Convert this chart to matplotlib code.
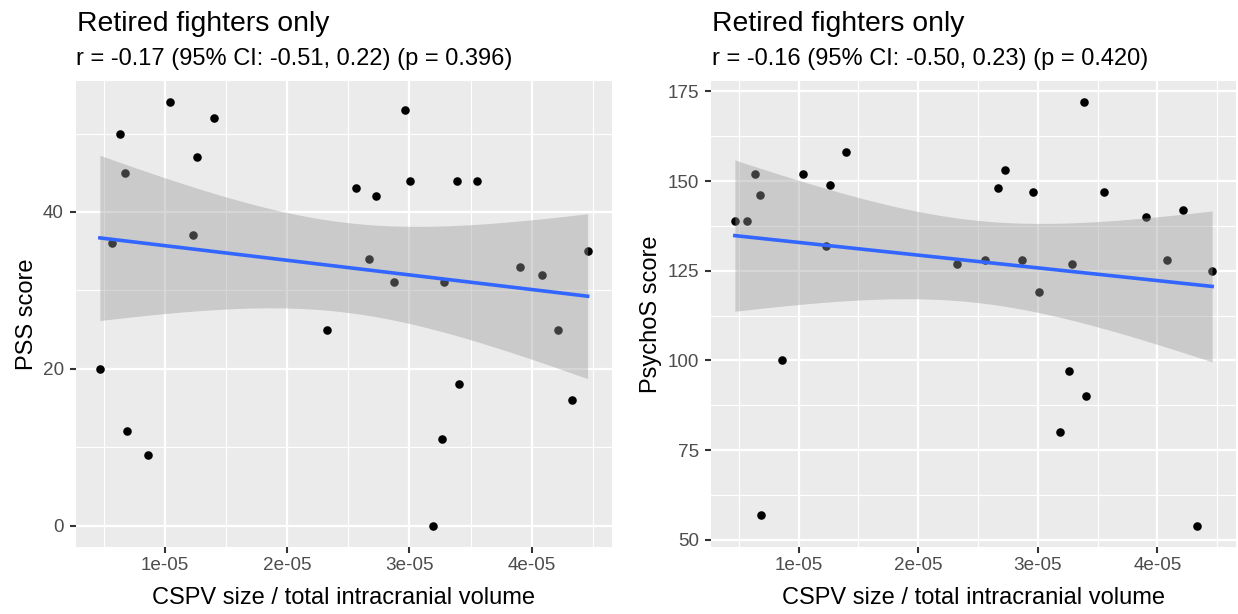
import numpy as np
import matplotlib
matplotlib.use("Agg")
import matplotlib.pyplot as plt
from matplotlib.ticker import FixedLocator, FixedFormatter

# ---- data ----
cspv_ratio = np.array([0.468, 0.570, 0.636, 0.676, 0.690, 0.865, 1.040, 1.232, 1.261, 1.400,
                       2.322, 2.561, 2.670, 2.725, 2.872, 2.960, 3.008, 3.189, 3.262, 3.282,
                       3.390, 3.404, 3.552, 3.907, 4.080, 4.215, 4.330, 4.457]) * 1e-5
pss_score = [20, 36, 50, 45, 12, 9, 54, 37, 47, 52, 25, 43, 34, 42, 31, 53, 44, 0, 11, 31,
             44, 18, 44, 33, 32, 25, 16, 35]
psychos_score = [139, 139, 152, 146, 57, 100, 152, 132, 149, 158, 127, 128, 148, 153, 128, 147,
                 119, 80, 97, 127, 172, 90, 147, 140, 128, 142, 54, 125]

title_text = "Retired fighters only"
subtitles = ["r = -0.17 (95% CI: -0.51, 0.22) (p = 0.396)",
             "r = -0.16 (95% CI: -0.50, 0.23) (p = 0.420)"]
ylabels = ["PSS score", "PsychoS score"]
xlabel = "CSPV size / total intracranial volume"
x_ticks = [1e-5, 2e-5, 3e-5, 4e-5]
x_ticklabels = ["1e-05", "2e-05", "3e-05", "4e-05"]
x_minor = [0.5e-5, 1.5e-5, 2.5e-5, 3.5e-5, 4.5e-5]
y_ticks = [[0, 20, 40], [50, 75, 100, 125, 150, 175]]
y_minor = [[10, 30, 50], [62.5, 87.5, 112.5, 137.5, 162.5]]
T_975_DF26 = 2.0555  # t quantile for 95% CI, n-2 = 26

W, H = 1238, 614
plt.rcParams['font.family'] = ['Liberation Sans', 'DejaVu Sans']
fig = plt.figure(figsize=(W / 100, H / 100), dpi=100)
fig.patch.set_facecolor("white")

def px_axes(l, t, r, b):
    return fig.add_axes([l / W, 1 - b / H, (r - l) / W, (b - t) / H])

panels = [dict(box=(75.5, 81, 612, 546.7), y=pss_score, ylab_x=33.0),
          dict(box=(711, 81, 1236, 546.7), y=psychos_score, ylab_x=656.7)]

for i, p in enumerate(panels):
    l, t, r, b = p["box"]
    ax = px_axes(l, t, r, b)
    ax.set_facecolor("#EBEBEB")
    for s in ax.spines.values():
        s.set_visible(False)
    x = cspv_ratio
    y = np.asarray(p["y"], dtype=float)

    # points (drawn beneath the ribbon, as in ggplot)
    ax.scatter(x, y, s=38, color="black", linewidths=0, zorder=3)

    # linear fit with 95% confidence band
    n = len(x)
    slope, intercept = np.polyfit(x, y, 1)
    resid = y - (slope * x + intercept)
    sigma = np.sqrt(np.sum(resid ** 2) / (n - 2))
    xg = np.linspace(x.min(), x.max(), 80)
    yg = slope * xg + intercept
    se = sigma * np.sqrt(1 / n + (xg - x.mean()) ** 2 / np.sum((x - x.mean()) ** 2))
    ax.fill_between(xg, yg - T_975_DF26 * se, yg + T_975_DF26 * se,
                    color="#999999", alpha=0.4, linewidth=0, zorder=4)
    ax.plot(xg, yg, color="#3366FF", linewidth=2.6, zorder=5)

    ax.margins(x=0.05, y=0.05)
    ax.xaxis.set_major_locator(FixedLocator(x_ticks))
    ax.xaxis.set_major_formatter(FixedFormatter(x_ticklabels))
    ax.xaxis.set_minor_locator(FixedLocator(x_minor))
    ax.yaxis.set_major_locator(FixedLocator(y_ticks[i]))
    ax.yaxis.set_minor_locator(FixedLocator(y_minor[i]))
    ax.grid(which="major", color="white", linewidth=1.65, zorder=0)
    ax.grid(which="minor", color="white", linewidth=0.83, zorder=0)
    ax.set_axisbelow(True)
    ax.tick_params(which="major", length=4.25, width=1.5, color="#333333",
                   labelsize=13.6, labelcolor="#4D4D4D")
    ax.tick_params(axis="x", pad=3.4)
    ax.tick_params(axis="y", pad=4.2)
    ax.tick_params(which="minor", length=0)

    # titles and axis titles
    fig.text((l + 1.2) / W, 1 - 31 / H, title_text, fontsize=20.4, color="black",
             ha="left", va="baseline")
    fig.text((l + 0.5) / W, 1 - 65 / H, subtitles[i], fontsize=17, color="black",
             ha="left", va="baseline")
    fig.text((l + r) / 2 / W, 1 - 604 / H, xlabel, fontsize=17, color="black",
             ha="center", va="baseline")
    fig.text(p["ylab_x"] / W, 1 - (t + b) / 2 / H, ylabels[i], fontsize=17, color="black",
             ha="center", va="baseline", rotation=90, rotation_mode="anchor")

fig.savefig("out.png", dpi=100, facecolor="white")
